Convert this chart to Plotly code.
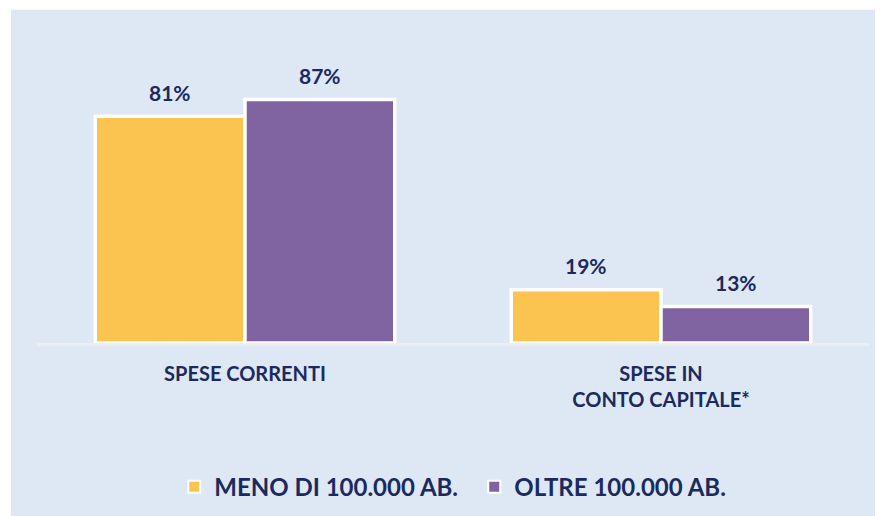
import plotly.graph_objects as go

# ── Data ──────────────────────────────────────────────────────────────────
categories = ['SPESE CORRENTI', 'SPESE IN<br>CONTO CAPITALE*']
series_names = ['MENO DI 100.000 AB.', 'OLTRE 100.000 AB.']
meno_100k = [81, 19]
oltre_100k = [87, 13]

# ── Style ─────────────────────────────────────────────────────────────────
NAVY = '#1B2A5E'
PANEL = '#DDE8F4'
COLORS = ['#FBC34F', '#8064A2']
FONT = 'Lato, "Open Sans", sans-serif'
BAR_HALF_PX = 75  # half a bar width, used to put the value labels over each bar

fig = go.Figure()
for j, (name, vals, col) in enumerate(zip(series_names, [meno_100k, oltre_100k], COLORS)):
    fig.add_trace(go.Bar(
        x=categories,
        y=vals,
        name=name,
        marker=dict(color=col, line=dict(color='white', width=3.5)),
        cliponaxis=False,
    ))
    for cat, v in zip(categories, vals):
        fig.add_annotation(
            x=cat, y=v, text=f'{v}%', showarrow=False,
            xshift=(2 * j - 1) * BAR_HALF_PX, yshift=24, yanchor='middle',
            font=dict(color=NAVY, size=21, family=FONT, weight='bold'),
        )

# light blue panel behind everything
fig.add_shape(
    type='rect', xref='paper', yref='paper',
    x0=-0.0313, x1=1.03, y0=-0.7, y1=1.19,
    fillcolor=PANEL, line=dict(width=0), layer='below',
)

# page body adds an 8px margin, so the figure is a bit smaller than the window
fig.update_layout(
    width=875,
    height=508,
    barmode='group',
    bargap=0.28,
    bargroupgap=0,
    paper_bgcolor='white',
    plot_bgcolor='rgba(0,0,0,0)',
    margin=dict(l=29, r=14, t=55, b=173),
    font=dict(family=FONT, color=NAVY, size=20),
    showlegend=True,
    legend=dict(
        orientation='h',
        xref='container', yref='container',
        x=0.19, xanchor='left',
        y=0.057, yanchor='middle',
        font=dict(size=24, color=NAVY, family=FONT, weight='bold'),
        bgcolor='rgba(0,0,0,0)',
        itemsizing='constant',
        entrywidth=255,
    ),
)
fig.update_xaxes(
    range=[-0.5, 1.5],
    showline=True, linecolor='#EEEEEE', linewidth=3,
    ticks='', showgrid=False,
    tickfont=dict(size=20, color=NAVY, family=FONT, weight='bold'),
    ticklabelstandoff=11,
)
fig.update_yaxes(range=[0, 100], visible=False, showgrid=False)

fig.write_html('out.html')
